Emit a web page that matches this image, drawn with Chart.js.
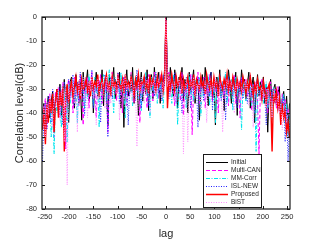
<!DOCTYPE html>
<html><head><meta charset="utf-8">
<script src="https://cdn.jsdelivr.net/npm/chart.js@4"></script>
<style>html,body{margin:0;padding:0;background:#fff}#c{display:block}</style>
</head><body>
<canvas id="c" width="321" height="241"></canvas>
<script>
const lags=[-255,-252,-249,-246,-243,-240,-237,-234,-231,-228,
-225,-222,-219,-216,-213,-210,-207,-204,-201,-198,
-195,-192,-189,-186,-183,-180,-177,-174,-171,-168,
-165,-162,-159,-156,-153,-150,-147,-144,-141,-138,
-135,-132,-129,-126,-123,-120,-117,-114,-111,-108,
-105,-102,-99,-96,-93,-90,-87,-84,-81,-78,
-75,-72,-69,-66,-63,-60,-57,-54,-51,-48,
-45,-42,-39,-36,-33,-30,-27,-24,-21,-18,
-15,-12,-9,-6,-3,0,3,6,9,12,
15,18,21,24,27,30,33,36,39,42,
45,48,51,54,57,60,63,66,69,72,
75,78,81,84,87,90,93,96,99,102,
105,108,111,114,117,120,123,126,129,132,
135,138,141,144,147,150,153,156,159,162,
165,168,171,174,177,180,183,186,189,192,
195,198,201,204,207,210,213,216,219,222,
225,228,231,234,237,240,243,246,249,252,
255];

const initial=[-40,-36,-45,-38,-33,-42,-35,-31,-39,-34,
-30,-37,-28,-41,-33,-26,-35,-29,-44,-27,
-25,-32,-38,-24,-30,-36,-27,-43,-23,-31,
-28,-22,-35,-30,-25,-40,-29,-23,-33,-27,
-31,-22,-37,-26,-29,-45,-24,-32,-28,-21,
-34,-27,-30,-23,-38,-26,-46,-29,-22,-33,
-27,-31,-21,-36,-28,-25,-41,-30,-23,-35,
-26,-32,-22,-39,-28,-24,-34,-21,-30,-27,
-23,-36,-25,-29,-22,0,-24,-31,-21,-28,
-33,-22,-27,-38,-25,-30,-21,-35,-26,-29,
-40,-23,-31,-27,-22,-36,-28,-25,-43,-30,
-24,-32,-21,-29,-37,-26,-23,-34,-28,-45,
-25,-30,-22,-33,-27,-39,-24,-31,-22,-28,
-36,-25,-29,-23,-41,-27,-32,-22,-30,-26,
-34,-28,-23,-38,-29,-25,-44,-31,-24,-33,
-27,-30,-25,-36,-29,-48,-31,-26,-35,-30,
-28,-37,-32,-29,-42,-34,-31,-39,-33,-45,
-36];

const multiCAN=[-43,-38,-34,-46,-37,-32,-40,-35,-50,-31,
-36,-29,-42,-33,-27,-38,-55,-30,-26,-34,
-28,-40,-25,-33,-29,-37,-24,-31,-45,-27,
-32,-25,-38,-28,-23,-34,-30,-42,-26,-29,
-24,-36,-28,-31,-25,-48,-27,-33,-23,-30,
-28,-35,-24,-32,-27,-40,-25,-30,-37,-26,
-33,-23,-29,-36,-26,-31,-24,-44,-28,-32,
-25,-30,-38,-24,-29,-27,-35,-23,-31,-26,
-34,-24,-30,-27,-25,0,-28,-23,-33,-26,
-30,-37,-24,-29,-27,-35,-23,-41,-28,-32,
-26,-33,-24,-49,-29,-27,-31,-23,-36,-28,
-30,-25,-38,-27,-33,-24,-29,-35,-26,-31,
-28,-40,-25,-30,-27,-34,-24,-29,-37,-26,
-31,-28,-24,-36,-29,-27,-42,-25,-32,-28,
-26,-33,-30,-25,-39,-28,-31,-27,-35,-57,
-29,-26,-34,-31,-28,-40,-30,-27,-36,-33,
-30,-38,-29,-35,-41,-32,-37,-34,-46,-38,
-42];

const mmCorr=[-45,-39,-48,-36,-42,-34,-50,-38,-57,-33,
-40,-31,-37,-46,-29,-35,-31,-52,-28,-36,
-30,-26,-35,-29,-44,-27,-33,-25,-31,-38,
-27,-34,-24,-30,-28,-37,-25,-32,-29,-46,
-26,-31,-24,-28,-35,-27,-22,-33,-29,-40,
-25,-30,-27,-34,-23,-31,-28,-42,-26,-29,
-32,-24,-37,-27,-30,-25,-34,-28,-39,-26,
-29,-23,-33,-28,-42,-25,-31,-27,-24,-36,
-28,-31,-25,-38,-27,0,-32,-26,-29,-36,
-24,-31,-27,-45,-29,-25,-33,-28,-30,-38,
-27,-24,-32,-29,-35,-26,-31,-28,-25,-41,
-29,-33,-26,-30,-24,-37,-28,-32,-27,-44,
-31,-25,-29,-34,-27,-30,-23,-36,-28,-32,
-26,-39,-29,-25,-33,-28,-31,-47,-27,-30,
-35,-26,-32,-29,-37,-28,-31,-56,-30,-27,
-33,-29,-36,-31,-27,-38,-32,-30,-43,-29,
-34,-31,-37,-33,-40,-35,-32,-44,-36,-50,
-41];

const islNew=[-60,-41,-36,-47,-33,-39,-44,-30,-37,-35,
-32,-40,-29,-34,-45,-27,-31,-36,-26,-33,
-29,-24,-37,-30,-27,-35,-23,-32,-28,-41,
-25,-30,-27,-33,-22,-38,-28,-31,-26,-29,
-44,-27,-32,-24,-30,-50,-28,-25,-34,-29,
-26,-31,-23,-36,-28,-30,-25,-33,-27,-45,
-29,-24,-31,-27,-35,-22,-30,-26,-38,-28,
-31,-25,-29,-37,-24,-30,-27,-33,-23,-28,
-32,-26,-35,-24,-29,0,-27,-34,-25,-30,
-28,-23,-36,-29,-31,-26,-40,-27,-33,-25,
-30,-28,-38,-24,-32,-27,-29,-46,-26,-31,
-28,-35,-25,-30,-27,-33,-23,-39,-29,-26,
-32,-28,-24,-35,-30,-27,-43,-29,-25,-31,
-28,-33,-26,-30,-38,-27,-31,-25,-34,-29,
-27,-36,-30,-24,-33,-28,-40,-29,-26,-32,
-30,-35,-28,-33,-45,-29,-32,-37,-30,-34,
-36,-31,-39,-34,-43,-37,-33,-52,-38,-60,
-44];

const proposed=[-47,-38,-53,-36,-44,-34,-40,-32,-48,-35,
-30,-42,-31,-37,-29,-56,-33,-28,-36,-30,
-27,-33,-29,-25,-31,-28,-34,-26,-30,-29,
-26,-31,-28,-33,-25,-30,-27,-29,-24,-32,
-28,-26,-31,-27,-24,-30,-28,-33,-25,-29,
-27,-31,-25,-28,-30,-26,-32,-24,-29,-27,
-30,-25,-28,-33,-26,-29,-24,-31,-27,-28,
-25,-30,-27,-32,-24,-29,-26,-28,-31,-25,
-29,-27,-24,-31,-26,0,-38,-26,-30,-24,
-28,-31,-25,-29,-27,-24,-32,-26,-30,-28,
-25,-31,-27,-29,-24,-33,-26,-28,-30,-25,
-29,-27,-32,-24,-28,-30,-26,-31,-25,-29,
-27,-33,-25,-28,-30,-26,-29,-24,-31,-27,
-30,-25,-28,-32,-26,-29,-27,-31,-25,-28,
-32,-27,-30,-25,-29,-33,-28,-31,-26,-30,
-29,-34,-27,-31,-36,-30,-28,-33,-56,-32,
-35,-31,-38,-34,-45,-36,-42,-39,-48,-44,
-50];

const bist=[-44,-37,-50,-35,-41,-33,-39,-46,-32,-38,
-35,-29,-43,-31,-27,-52,-30,-70,-28,-34,
-31,-26,-36,-29,-48,-27,-33,-30,-25,-35,
-29,-42,-27,-31,-25,-34,-28,-45,-26,-30,
-33,-27,-29,-38,-25,-31,-28,-36,-26,-30,
-28,-32,-25,-43,-29,-27,-34,-24,-30,-28,
-31,-26,-35,-28,-30,-54,-27,-32,-25,-29,
-36,-28,-26,-31,-40,-27,-29,-25,-33,-28,
-26,-30,-35,-27,-31,0,-29,-25,-33,-28,
-30,-27,-35,-29,-26,-32,-28,-57,-30,-26,
-52,-29,-27,-31,-25,-34,-28,-30,-26,-38,
-29,-32,-27,-44,-30,-26,-33,-28,-31,-25,
-29,-36,-27,-30,-48,-28,-32,-26,-34,-29,
-27,-31,-40,-28,-30,-26,-35,-29,-32,-27,
-30,-28,-37,-31,-29,-46,-33,-30,-28,-35,
-31,-29,-34,-32,-38,-30,-36,-33,-42,-31,
-34,-37,-33,-40,-36,-47,-38,-35,-44,-39,
-41];

const seriesNames=['Initial','Multi-CAN','MM-Corr','ISL-NEW','Proposed','BiST'];
const xTicks=[-250,-200,-150,-100,-50,0,50,100,150,200,250];
const yTicks=[0,-10,-20,-30,-40,-50,-60,-70,-80];

const styles=[
  {c:'#000000',w:1,d:[],o:6},
  {c:'#ff00ff',w:1,d:[4,2],o:5},
  {c:'#00e5ee',w:1,d:[4,1.5,1,1.5],o:4},
  {c:'#2020ff',w:1,d:[1,1.5],o:3},
  {c:'#ff0000',w:1.4,d:[],o:2},
  {c:'#ff8cff',w:1,d:[1,1.5],o:1}
];
const allSeries=[initial,multiCAN,mmCorr,islNew,proposed,bist];

const datasets=allSeries.map((s,k)=>({
  label:seriesNames[k],
  data:lags.map((x,i)=>({x:x,y:s[i]})),
  borderColor:styles[k].c,
  borderWidth:styles[k].w,
  borderDash:styles[k].d,
  order:styles[k].o,
  pointRadius:0,
  tension:0,
  fill:false
}));

const frame={
  id:'frame',
  afterDatasetsDraw(chart){
    const {ctx,chartArea:a,scales:{x,y}}=chart;
    ctx.save();
    ctx.strokeStyle='#1a1a1a';
    ctx.lineWidth=1.2;
    ctx.setLineDash([]);
    ctx.strokeRect(a.left,a.top,a.right-a.left,a.bottom-a.top);
    const tl=3;
    ctx.lineWidth=1;
    ctx.beginPath();
    xTicks.forEach(v=>{
      const px=Math.round(x.getPixelForValue(v))+0.5;
      ctx.moveTo(px,a.bottom);ctx.lineTo(px,a.bottom-tl);
      ctx.moveTo(px,a.top);ctx.lineTo(px,a.top+tl);
    });
    yTicks.forEach(v=>{
      const py=Math.round(y.getPixelForValue(v))+0.5;
      ctx.moveTo(a.left,py);ctx.lineTo(a.left+tl,py);
      ctx.moveTo(a.right,py);ctx.lineTo(a.right-tl,py);
    });
    ctx.stroke();
    // legend
    const L=203,T=154,R=262,B=208;
    ctx.fillStyle='#fff';
    ctx.fillRect(L,T,R-L,B-T);
    ctx.strokeStyle='#1a1a1a';
    ctx.lineWidth=1;
    ctx.strokeRect(L+0.5,T+0.5,R-L-1,B-T-1);
    ctx.font='6.5px "Liberation Sans", Arial, sans-serif';
    ctx.textBaseline='middle';
    ctx.textAlign='left';
    seriesNames.forEach((n,k)=>{
      const yy=Math.round(161.5+k*8.1)+0.5;
      ctx.strokeStyle=styles[k].c;
      ctx.lineWidth=k===4?1.5:1;
      ctx.setLineDash(styles[k].d);
      ctx.beginPath();ctx.moveTo(206,yy);ctx.lineTo(228,yy);ctx.stroke();
      ctx.setLineDash([]);
      ctx.fillStyle='#262626';
      ctx.fillText(n,231,yy);
    });
    ctx.restore();
  }
};

new Chart(document.getElementById('c'),{
  type:'line',
  data:{datasets:datasets},
  options:{
    responsive:false,
    animation:false,
    devicePixelRatio:1,
    events:[],
    layout:{padding:{top:17,right:31,left:0,bottom:0}},
    plugins:{legend:{display:false},tooltip:{enabled:false},title:{display:false}},
    scales:{
      x:{
        type:'linear',min:-256,max:256,
        afterFit(s){s.height=32;},
        afterBuildTicks(s){s.ticks=xTicks.map(v=>({value:v}));},
        grid:{display:false,drawTicks:false},
        border:{display:false},
        ticks:{padding:3,color:'#262626',font:{family:'"Liberation Sans", Arial, sans-serif',size:7.5},maxRotation:0,autoSkip:false},
        title:{display:true,text:'lag',color:'#262626',font:{family:'"Liberation Sans", Arial, sans-serif',size:11},padding:{top:0,bottom:0}}
      },
      y:{
        type:'linear',min:-80,max:0,
        afterFit(s){s.width=42;},
        afterBuildTicks(s){s.ticks=yTicks.map(v=>({value:v}));},
        grid:{display:false,drawTicks:false},
        border:{display:false},
        ticks:{padding:5,color:'#262626',font:{family:'"Liberation Sans", Arial, sans-serif',size:7.5},autoSkip:false},
        title:{display:true,text:'Correlation level(dB)',color:'#262626',font:{family:'"Liberation Sans", Arial, sans-serif',size:11},padding:{top:13,bottom:0}}
      }
    }
  },
  plugins:[frame]
});
</script>
</body></html>
